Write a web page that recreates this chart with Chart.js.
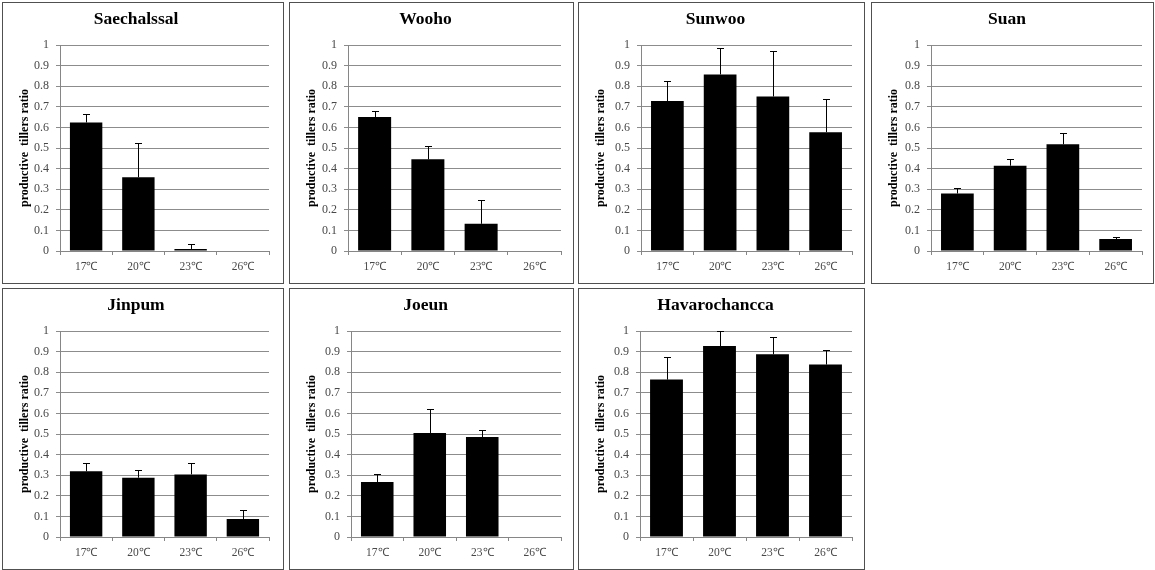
<!DOCTYPE html>
<html>
<head>
<meta charset="utf-8">
<script src="https://cdn.jsdelivr.net/npm/chart.js@4"></script>
<style>
  body { margin: 0; background: #fff; width: 1155px; height: 570px; position: relative; overflow: hidden; }
  .panel { position: absolute; box-sizing: border-box; border: 1px solid #505050; background: #fff; }
  .panel canvas { display: block; }
</style>
</head>
<body>
<script>
// data
let categories = ['17℃', '20℃', '23℃', '26℃']
let yTickLabels = ['0', '0.1', '0.2', '0.3', '0.4', '0.5', '0.6', '0.7', '0.8', '0.9', '1']
let varieties = ['Saechalssal', 'Wooho', 'Sunwoo', 'Suan', 'Jinpum', 'Joeun', 'Havarochancca']

let saechalssal = [0.624, 0.358, 0.01, 0]
let saechalssalErr = [0.04, 0.165, 0.022, 0]
let wooho = [0.65, 0.445, 0.132, 0]
let woohoErr = [0.029, 0.064, 0.114, 0]
let sunwoo = [0.728, 0.857, 0.75, 0.577]
let sunwooErr = [0.099, 0.127, 0.222, 0.162]
let suan = [0.279, 0.414, 0.518, 0.058]
let suanErr = [0.028, 0.034, 0.057, 0.011]
let jinpum = [0.319, 0.288, 0.304, 0.087]
let jinpumErr = [0.04, 0.039, 0.054, 0.042]
let joeun = [0.267, 0.505, 0.485, 0]
let joeunErr = [0.039, 0.117, 0.036, 0]
let havarochancca = [0.764, 0.927, 0.887, 0.837]
let havarochanccaErr = [0.108, 0.073, 0.085, 0.07]

let means = [saechalssal, wooho, sunwoo, suan, jinpum, joeun, havarochancca]
let errs = [saechalssalErr, woohoErr, sunwooErr, suanErr, jinpumErr, joeunErr, havarochanccaErr]

// panel boxes: left, top, width, height, plot left offset, right margin
let boxes = [
  [2, 2, 282, 282, 58, 15],
  [289, 2, 285, 282, 59, 13],
  [578, 2, 287, 282, 63, 13],
  [871, 2, 283, 282, 60, 12],
  [2, 288, 282, 282, 58, 15],
  [289, 288, 285, 282, 62, 13],
  [578, 288, 287, 282, 62, 13]
]

const serif = "'Times New Roman', 'Liberation Serif', serif"

const errorBars = {
  id: 'errorBars',
  afterDatasetsDraw (chart, args, opts) {
    let ctx = chart.ctx
    let yScale = chart.scales.y
    let meta = chart.getDatasetMeta(0)
    let vals = chart.data.datasets[0].data
    ctx.save()
    ctx.strokeStyle = '#000'
    ctx.lineWidth = 1
    meta.data.forEach((bar, i) => {
      let e = opts.err[i]
      if (!e) return
      let x = Math.round(bar.x) + 0.5
      let yTop = Math.round(yScale.getPixelForValue(vals[i] + e)) + 0.5
      ctx.beginPath()
      ctx.moveTo(x, bar.y)
      ctx.lineTo(x, yTop)
      ctx.moveTo(x - 3.5, yTop)
      ctx.lineTo(x + 3.5, yTop)
      ctx.stroke()
    })
    ctx.restore()
  }
}

varieties.forEach((name, k) => {
  let b = boxes[k]
  let div = document.createElement('div')
  div.className = 'panel'
  div.style.left = b[0] + 'px'
  div.style.top = b[1] + 'px'
  div.style.width = b[2] + 'px'
  div.style.height = b[3] + 'px'
  let cv = document.createElement('canvas')
  cv.width = b[2] - 2
  cv.height = b[3] - 2
  div.appendChild(cv)
  document.body.appendChild(div)

  new Chart(cv.getContext('2d'), {
    type: 'bar',
    data: {
      labels: categories,
      datasets: [{
        data: means[k],
        backgroundColor: '#000',
        barPercentage: 0.62,
        categoryPercentage: 1
      }]
    },
    plugins: [errorBars],
    options: {
      responsive: false,
      animation: false,
      layout: { padding: { left: 0, right: b[5] - 1, top: 0, bottom: 0 } },
      plugins: {
        legend: { display: false },
        tooltip: { enabled: false },
        title: {
          display: true,
          text: name,
          color: '#000',
          font: { family: serif, size: 17.5, weight: 'bold' },
          padding: { top: 6, bottom: 15 }
        },
        errorBars: { err: errs[k] }
      },
      scales: {
        x: {
          afterFit: s => { s.height = cv.height - 248 },
          grid: { display: true, drawOnChartArea: false, drawTicks: true, tickLength: 4, offset: true, color: '#868686' },
          border: { color: '#868686' },
          ticks: { color: '#484848', font: { family: serif, size: 11.5 }, padding: 5 }
        },
        y: {
          min: 0,
          max: 1,
          afterFit: s => { s.width = b[4] - 1 },
          afterBuildTicks: s => { s.ticks = yTickLabels.map(t => ({ value: parseFloat(t) })) },
          grid: { color: '#8c8c8c', tickLength: 4, drawTicks: true },
          border: { color: '#868686' },
          ticks: {
            color: '#484848',
            font: { family: serif, size: 12 },
            padding: 7,
            callback: (v, i) => yTickLabels[i]
          },
          title: {
            display: true,
            text: 'productive  tillers ratio',
            color: '#000',
            font: { family: serif, size: 12, weight: 'bold' },
            padding: { top: 15, bottom: 0 }
          }
        }
      }
    }
  })
})
</script>
</body>
</html>
